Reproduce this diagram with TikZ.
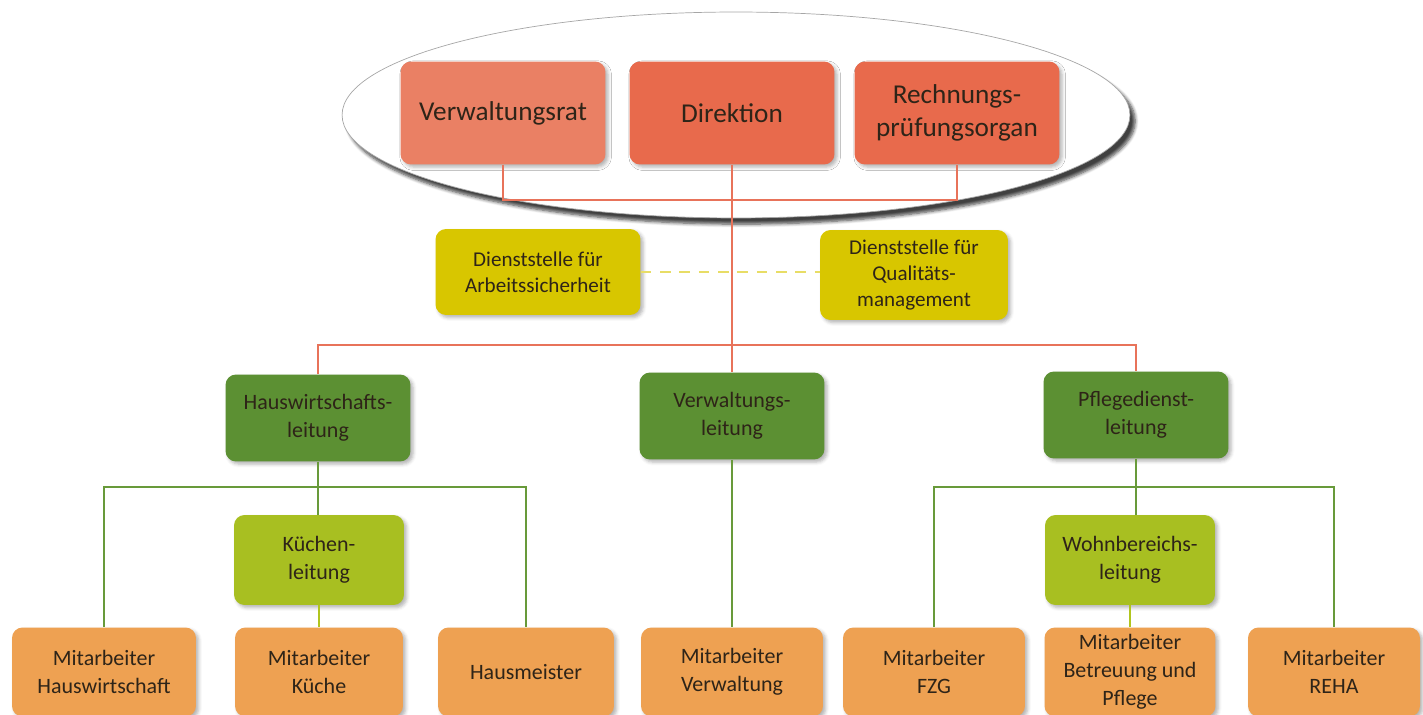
\documentclass[tikz,border=0pt]{standalone}
\usepackage{fontspec}
\setmainfont{Carlito}
\usetikzlibrary{shapes.geometric,shadows.blur}
\definecolor{topred}{HTML}{E86A4C}
\definecolor{toplight}{HTML}{EA8064}
\definecolor{yel}{HTML}{D8C600}
\definecolor{dkgreen}{HTML}{5C9033}
\definecolor{ltgreen}{HTML}{A8BF21}
\definecolor{orng}{HTML}{EEA152}
\definecolor{redln}{HTML}{E8735A}
\definecolor{grnln}{HTML}{689A3A}
\definecolor{txt}{HTML}{2E2418}
\begin{document}
\begin{tikzpicture}[x=0.02cm,y=-0.02cm,
  box/.style={rectangle,rounded corners=6pt,align=center,text=txt,inner sep=2pt,
    blur shadow={shadow xshift=1.5pt,shadow yshift=-1.5pt,shadow opacity=30,shadow blur steps=4}},
  topbox/.style={box,fill=topred,minimum width=4.1cm,minimum height=2.06cm,font=\fontsize{15.5}{19}\selectfont},
  yelbox/.style={box,fill=yel,minimum height=1.72cm,font=\fontsize{12}{15}\selectfont},
  leadbox/.style={box,fill=dkgreen,minimum width=3.7cm,minimum height=1.74cm,font=\fontsize{12.5}{16}\selectfont},
  subbox/.style={box,fill=ltgreen,minimum width=3.4cm,minimum height=1.8cm,font=\fontsize{12.5}{16}\selectfont},
  staffbox/.style={box,fill=orng,minimum height=1.78cm,font=\fontsize{12.5}{16}\selectfont},
  redline/.style={draw=redln,line width=1.3pt},
  greenline/.style={draw=grnln,line width=1.3pt},
  limeline/.style={draw=ltgreen!90!yellow,line width=1.3pt}]
\useasboundingbox (0,0) rectangle (1423,715);
% top group
\node[ellipse,fill=white,draw=black!35,minimum width=15.76cm,minimum height=4.12cm,
  blur shadow={shadow xshift=3pt,shadow yshift=-3.5pt,shadow opacity=75,shadow blur steps=6}] (ring) at (736,115) {};
\node[topbox,fill=toplight] (verw) at (503,113) {Verwaltungsrat};
\node[topbox] (dir) at (732,113) {Direktion};
\node[topbox] (rech) at (957,113) {Rechnungs-\\prüfungsorgan};
\coordinate (topbar) at (732,200);
\coordinate (midbar) at (732,345);
% staff units
\node[yelbox,minimum width=4.1cm] (arbeit) at (538,272) {Dienststelle für\\Arbeitssicherheit};
\node[yelbox,minimum width=3.76cm,minimum height=1.8cm] (quali) at (914,275) {Dienststelle für\\Qualitäts-\\management};
% leaders
\node[leadbox] (hausw) at (318,418) {Hauswirtschafts-\\leitung};
\node[leadbox] (verwl) at (732,416) {Verwaltungs-\\leitung};
\node[leadbox] (pfleg) at (1136,415) {Pflegedienst-\\leitung};
\node[subbox] (kueche) at (319,560) {Küchen-\\leitung};
\node[subbox] (wohn) at (1130,560) {Wohnbereichs-\\leitung};
\coordinate (hbar) at (318,487);
\coordinate (pbar) at (1136,487);
% staff
\node[staffbox,minimum width=3.68cm] (mhw) at (104,672) {Mitarbeiter\\Hauswirtschaft};
\node[staffbox,minimum width=3.36cm] (mkue) at (319,672) {Mitarbeiter\\Küche};
\node[staffbox,minimum width=3.52cm] (meister) at (526,672) {Hausmeister};
\node[staffbox,minimum width=3.64cm] (mverw) at (732,672) {Mitarbeiter\\Verwaltung};
\node[staffbox,minimum width=3.64cm] (mfzg) at (934,672) {Mitarbeiter\\FZG};
\node[staffbox,minimum width=3.42cm] (mbetr) at (1130,672) {Mitarbeiter\\Betreuung und\\Pflege};
\node[staffbox,minimum width=3.44cm] (mreha) at (1334,672) {Mitarbeiter\\REHA};
% connectors
\draw[redline] (verw.south) |- (topbar) -| (rech.south);
\draw[redline] (dir.south) -- (verwl.north);
\draw[redline] (hausw.north) |- (midbar) -| (pfleg.north);
\draw[draw=yel!60,line width=1.3pt,dash pattern=on 6pt off 5pt] (arbeit.east) -- (arbeit.east -| quali.west);
\draw[greenline] (hausw.south) -- (hausw.south |- kueche.north);
\draw[greenline] (mhw.north) |- (hbar) -| (meister.north);
\draw[limeline] (kueche.south) -- (mkue.north);
\draw[greenline] (verwl.south) -- (mverw.north);
\draw[greenline] (pfleg.south) -- (pfleg.south |- wohn.north);
\draw[greenline] (mfzg.north) |- (pbar) -| (mreha.north);
\draw[limeline] (wohn.south) -- (mbetr.north);
\end{tikzpicture}
\end{document}
